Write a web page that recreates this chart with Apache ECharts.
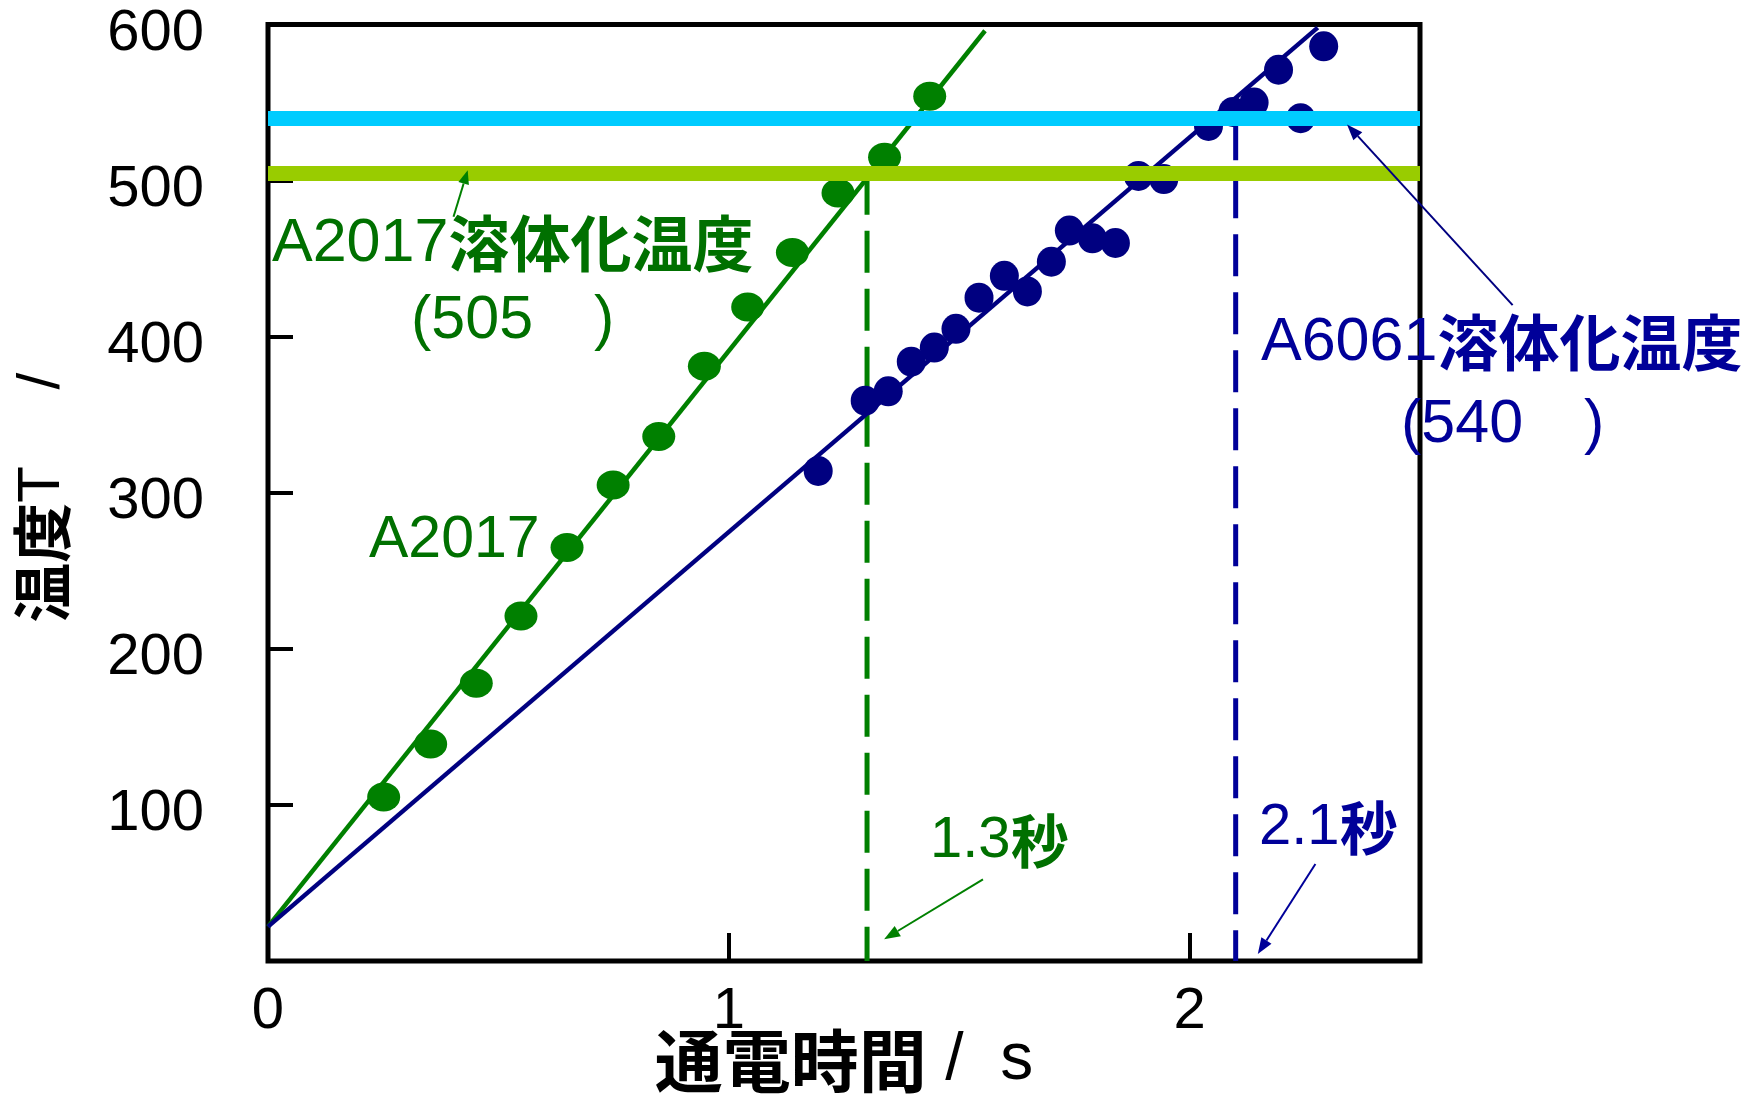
<!DOCTYPE html>
<html>
<head>
<meta charset="utf-8">
<script src="https://cdn.jsdelivr.net/npm/echarts@6/dist/echarts.min.js"></script>
<style>
  html, body { margin: 0; padding: 0; background: #ffffff; }
  #main { width: 1757px; height: 1097px; }
</style>
</head>
<body>
<div id="main"></div>
<script>
// A2017: measured temperature (°C) against current-on time (s)
const a2017Time = [0.251, 0.353, 0.452, 0.549, 0.649, 0.749, 0.848, 0.947, 1.041, 1.138, 1.237, 1.338, 1.436];
const a2017Temp = [105, 139, 178, 221, 265, 305, 336, 381, 419, 454, 492, 515, 554];

// A6061: measured temperature (°C) against current-on time (s)
const a6061Time = [1.194, 1.296, 1.346, 1.396, 1.446, 1.493, 1.543, 1.598, 1.648, 1.700, 1.739,
                   1.789, 1.839, 1.889, 1.944, 2.041, 2.094, 2.140, 2.193, 2.241, 2.291];
const a6061Temp = [314, 359, 365, 384, 393, 405, 425, 439, 429, 448, 468,
                   463, 460, 503, 501, 535, 544, 550, 571, 540, 586];

// Straight heating lines (start / end)
const a2017FitTime = [0, 1.556];
const a2017FitTemp = [22, 596];
const a6061FitTime = [0, 2.278];
const a6061FitTemp = [22, 598];

// Solution treatment temperatures [A2017, A6061] and times to reach them
const solutionTemps = [505, 540];
const reachTimes = [1.3, 2.1];

// Axis tick labels
const xTickLabels = [0, 1, 2];
const yTickLabels = [100, 200, 300, 400, 500, 600];

const GREEN = '#008000';
const GREEN_TEXT = '#007000';
const NAVY = '#000080';
const BLUE_TEXT = '#000099';
const FONT = '"Liberation Sans", Arial, "Noto Sans CJK JP", sans-serif';
const CJK = '"Noto Sans CJK JP", "Liberation Sans", sans-serif';
const DOT = 'path://M-1,0A1,1,0,1,1,1,0A1,1,0,1,1,-1,0Z';

const pairs = (xs, ys) => xs.map((x, i) => [x, ys[i]]);

const chart = echarts.init(document.getElementById('main'), null, { renderer: 'canvas' });

const option = {
  animation: false,
  backgroundColor: '#ffffff',
  grid: {
    left: 268, top: 24.5, width: 1152, height: 936.5,
    show: true, borderColor: '#000000', borderWidth: 5,
    containLabel: false, outerBoundsMode: 'none'
  },
  xAxis: {
    type: 'value', min: 0, max: 2.5, interval: 1,
    splitLine: { show: false },
    axisLine: { show: false },
    axisTick: { show: true, inside: true, length: 28, lineStyle: { color: '#000', width: 4 } },
    axisLabel: {
      margin: 22, color: '#000', fontSize: 58, fontFamily: FONT,
      formatter: v => (xTickLabels.includes(v) ? String(v) : '')
    },
    name: '{b|通電時間}{r| /  s}',
    nameLocation: 'middle', nameGap: 66, nameMoveOverlap: false,
    nameTextStyle: {
      rich: {
        b: { fontSize: 68, fontWeight: 'bold', fontFamily: CJK, color: '#000' },
        r: { fontSize: 66, fontFamily: FONT, color: '#000' }
      }
    }
  },
  yAxis: {
    type: 'value', min: 0, max: 600, interval: 100,
    splitLine: { show: false },
    axisLine: { show: false },
    axisTick: { show: true, inside: true, length: 25, lineStyle: { color: '#000', width: 4 } },
    axisLabel: {
      margin: 64, color: '#000', fontSize: 58, fontFamily: FONT,
      verticalAlign: 'top', lineHeight: 18,
      formatter: v => (yTickLabels.includes(v) ? String(v) : '')
    },
    name: '{b|温度}{r|T　 /}',
    nameLocation: 'middle', nameRotate: 90, nameGap: 196, nameMoveOverlap: false,
    nameTextStyle: {
      padding: [0, 10, 0, 0],
      rich: {
        b: { fontSize: 60, fontWeight: 'bold', fontFamily: CJK, color: '#000' },
        r: { fontSize: 60, fontFamily: FONT, color: '#000' }
      }
    }
  },
  series: [
    {
      // solution treatment temperature bands
      type: 'line', data: [], silent: true, z: 1,
      markLine: {
        silent: true, symbol: ['none', 'none'], label: { show: false },
        animation: false,
        data: [
          { yAxis: solutionTemps[0], lineStyle: { color: '#99CC00', width: 15, type: 'solid' } },
          { yAxis: solutionTemps[1], lineStyle: { color: '#00CCFF', width: 15, type: 'solid' } }
        ]
      }
    },
    {
      type: 'line', name: 'A2017到達', z: 2, silent: true, symbol: 'none',
      data: [[reachTimes[0], solutionTemps[0]], [reachTimes[0], 0]],
      lineStyle: { color: GREEN, width: 5, type: [42, 16] }
    },
    {
      type: 'line', name: 'A6061到達', z: 2, silent: true, symbol: 'none',
      data: [[reachTimes[1], solutionTemps[1]], [reachTimes[1], 0]],
      lineStyle: { color: '#000099', width: 5, type: [42, 16] }
    },
    {
      type: 'line', name: 'A2017直線', z: 3, silent: true, symbol: 'none',
      data: pairs(a2017FitTime, a2017FitTemp),
      lineStyle: { color: GREEN, width: 4.5 }
    },
    {
      type: 'line', name: 'A6061直線', z: 3, silent: true, symbol: 'none',
      data: pairs(a6061FitTime, a6061FitTemp),
      lineStyle: { color: NAVY, width: 4.5 }
    },
    {
      type: 'scatter', name: 'A2017', z: 4,
      symbol: DOT, symbolSize: [33, 29],
      itemStyle: { color: GREEN, opacity: 1 },
      emphasis: { disabled: true },
      data: pairs(a2017Time, a2017Temp)
    },
    {
      type: 'scatter', name: 'A6061', z: 4,
      symbol: DOT, symbolSize: [29, 30],
      itemStyle: { color: NAVY, opacity: 1 },
      emphasis: { disabled: true },
      data: pairs(a6061Time, a6061Temp)
    }
  ]
};

chart.setOption(option);

// Annotation arrows, anchored in data units
function arrow(from, to, color, width, headLen, headW) {
  const p0 = chart.convertToPixel({ gridIndex: 0 }, from);
  const p1 = chart.convertToPixel({ gridIndex: 0 }, to);
  const dx = p1[0] - p0[0], dy = p1[1] - p0[1];
  const L = Math.hypot(dx, dy), ux = dx / L, uy = dy / L;
  const bx = p1[0] - ux * headLen, by = p1[1] - uy * headLen;
  const nx = -uy, ny = ux;
  return [
    { type: 'line', silent: true, z: 20,
      shape: { x1: p0[0], y1: p0[1], x2: bx, y2: by },
      style: { stroke: color, lineWidth: width } },
    { type: 'polygon', silent: true, z: 20,
      shape: { points: [[p1[0], p1[1]], [bx + nx * headW / 2, by + ny * headW / 2], [bx - nx * headW / 2, by - ny * headW / 2]] },
      style: { fill: color } }
  ];
}

function label(x, y, text, rich) {
  return { type: 'text', silent: true, z: 30, x: x, y: y,
    style: { text: text, rich: rich, align: 'left', verticalAlign: 'middle' } };
}

function richSet(size, color) {
  return {
    l: { fontSize: size, fontFamily: FONT, fill: color },
    c: { fontSize: size, fontWeight: 'bold', fontFamily: CJK, fill: color }
  };
}

const graphics = [].concat(
  arrow([0.4026, 476.8], [0.4334, 506.7], GREEN, 2, 14, 11),
  arrow([1.5516, 52.3], [1.337, 13.9], GREEN, 2, 16, 12),
  arrow([2.273, 62.1], [2.148, 4.5], BLUE_TEXT, 2, 16, 12),
  arrow([2.701, 420.2], [2.3416, 536], NAVY, 2, 16, 12),
  [
    label(272, 244, '{l|A2017}{c|溶体化温度}', richSet(61, GREEN_TEXT)),
    label(411, 321, '{l|(505　)}', richSet(61, GREEN_TEXT)),
    label(369, 541, '{l|A2017}', richSet(59, GREEN_TEXT)),
    label(930, 841, '{l|1.3}{c|秒}', richSet(58, GREEN_TEXT)),
    label(1259, 828, '{l|2.1}{c|秒}', richSet(58, BLUE_TEXT)),
    label(1261, 343, '{l|A6061}{c|溶体化温度}', richSet(61, BLUE_TEXT)),
    label(1401, 425, '{l|(540　)}', richSet(61, BLUE_TEXT))
  ]
);

chart.setOption({ graphic: graphics });
</script>
</body>
</html>
